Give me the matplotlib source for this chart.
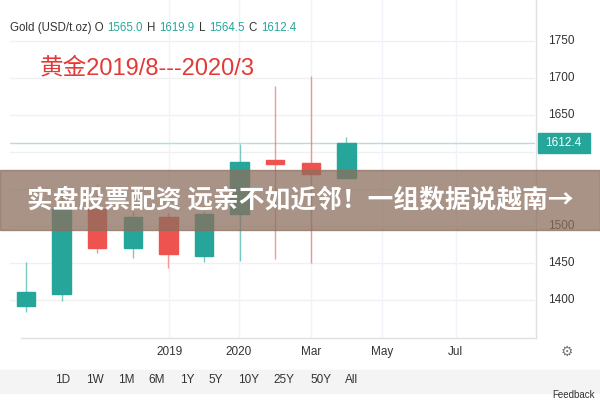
import matplotlib
matplotlib.use("Agg")
import matplotlib.pyplot as plt
from matplotlib.patches import Rectangle

plt.rcParams['font.family'] = ['Liberation Sans', 'Noto Sans CJK SC', 'DejaVu Sans']

opens  = [1392, 1408, 1523, 1470, 1512, 1459, 1516, 1589, 1585, 1565.0]
highs  = [1451, 1553, 1557, 1520, 1517, 1520, 1611, 1689, 1703, 1619.9]
lows   = [1384, 1398, 1463, 1457, 1443, 1451, 1453, 1455, 1450, 1564.5]
closes = [1411, 1523, 1470, 1512, 1462, 1516, 1586, 1584, 1570, 1612.4]
xtick_pos = [4.03, 5.97, 8.0, 10.0, 12.07]
xtick_labels = ['2019', '2020', 'Mar', 'May', 'Jul']
ytick_vals = [1400, 1450, 1500, 1650, 1700, 1750]  # 1550 under banner, 1600 under price tag
buttons = ['1D', '1W', '1M', '6M', '1Y', '5Y', '10Y', '25Y', '50Y', 'All']

GREEN = '#26a69a'; RED = '#ef5350'
fig = plt.figure(figsize=(6, 4), dpi=100)
ax = fig.add_axes([10/600, 62/400, 525/600, 338/400])
ax.set_xlim(-0.45, 14.3)
ax.set_ylim(1348.6, 1805)
for v in ytick_vals + [1550, 1600]:
    ax.axhline(v, color='#f0f0f0', lw=1, zorder=0)
for p in xtick_pos:
    ax.axvline(p, color='#f0f3fa', lw=1, zorder=0)
for i, (o, h, l, c) in enumerate(zip(opens, highs, lows, closes)):
    col = GREEN if c >= o else RED
    ax.vlines(i, l, h, color=col, lw=1, alpha=0.6, zorder=2)
    ax.add_patch(Rectangle((i - 0.26, min(o, c)), 0.52, max(abs(c - o), 1.5), color=col, zorder=3))
ax.axhline(closes[-1], color='#b2dfdb', lw=1, zorder=1)
ax.set_xticks([]); ax.set_yticks([])
for s in ax.spines.values():
    s.set_visible(False)

for v in ytick_vals:
    y = 62 + (v - 1348.6) / (1805 - 1348.6) * 338
    fig.text(548/600, y/400, str(v), fontsize=8.5, color='#333333', va='center')
yp = 62 + (closes[-1] - 1348.6) / (1805 - 1348.6) * 338
fig.patches.append(Rectangle((538/600, (yp-10)/400), 52/600, 20/400, transform=fig.transFigure,
                             color=GREEN, zorder=3))
fig.text(545/600, yp/400, '1612.4', fontsize=8.5, color='white', va='center', zorder=4)
fig.add_artist(plt.Line2D([536/600, 536/600], [0.155, 1], color='#e0e0e0', lw=1))
fig.add_artist(plt.Line2D([0.035, 536/600], [62/400, 62/400], color='#e0e0e0', lw=1))

for p, t in zip(xtick_pos, xtick_labels):
    x = 10 + (p + 0.45) / 14.75 * 525
    fig.text(x/600, 48/400, t, fontsize=8.5, color='#333333', ha='center', va='center')
fig.text(567/600, 48/400, '⚙', fontsize=10, color='#777777', ha='center', va='center', family='DejaVu Sans')

fig.patches.append(Rectangle((0, 7/400), 1, 23/400, transform=fig.transFigure, color='#f4f4f4'))
bx = [63, 95, 126, 157, 187, 216, 249, 284, 321, 352]
for x, t in zip(bx, buttons):
    fig.text(x/600, 20/400, t, fontsize=8.5, color='#333333', ha='center', va='center')
fig.text(595/600, 5/400, 'Feedback', fontsize=7, color='#333333', ha='right', va='center')

renderer = fig.canvas.get_renderer()
parts = [('Gold (USD/t.oz) O', '#333333'), ('1565.0', GREEN), ('H', '#333333'), ('1619.9', GREEN),
         ('L', '#333333'), ('1564.5', GREEN), ('C', '#333333'), ('1612.4', GREEN)]
x = 10
for t, c in parts:
    tx = fig.text(x/600, 372/400, t, fontsize=8.3, color=c, va='center')
    x += tx.get_window_extent(renderer).width + 4
fig.text(40/600, 332/400, '黄金2019/8---2020/3', fontsize=17, color='#e53935', va='center')

fig.patches.append(Rectangle((0, 170/400), 1, 60/400, transform=fig.transFigure, color='#8b6f5e', alpha=0.75, zorder=5))
fig.text(0.5, 200/400, '实盘股票配资 远亲不如近邻！一组数据说越南→', fontsize=18.5, color='white',
         fontweight='bold', ha='center', va='center', family=['Noto Sans CJK SC', 'DejaVu Sans'], zorder=6)

fig.savefig('out.png', dpi=100)
